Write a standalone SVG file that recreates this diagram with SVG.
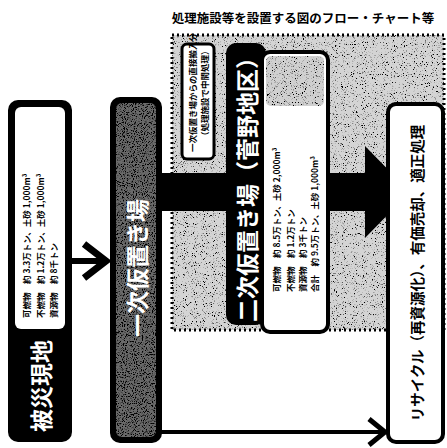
<svg xmlns="http://www.w3.org/2000/svg" width="447" height="448" viewBox="0 0 447 448">
<defs>
<filter id="speckle" x="0" y="0" width="100%" height="100%">
<feTurbulence type="fractalNoise" baseFrequency="0.9" numOctaves="2" seed="7" result="n"/>
<feColorMatrix in="n" type="matrix" values="0 0 0 0 0  0 0 0 0 0  0 0 0 0 0  7 0 0 0 -4.1" result="dots"/>
<feComposite in="dots" in2="SourceAlpha" operator="in" result="cd"/>
<feMerge><feMergeNode in="SourceGraphic"/><feMergeNode in="cd"/></feMerge>
</filter>
<filter id="speckleDark" x="0" y="0" width="100%" height="100%">
<feTurbulence type="fractalNoise" baseFrequency="0.9" numOctaves="2" seed="3" result="n"/>
<feColorMatrix in="n" type="matrix" values="0 0 0 0 0  0 0 0 0 0  0 0 0 0 0  6 0 0 0 -2.9" result="dots"/>
<feComposite in="dots" in2="SourceAlpha" operator="in" result="cd"/>
<feMerge><feMergeNode in="SourceGraphic"/><feMergeNode in="cd"/></feMerge>
</filter>
<style>
text{font-family:"Noto Sans CJK JP","Noto Sans",sans-serif;font-weight:bold}
.big{fill:#fff;font-size:23px;text-anchor:middle;dominant-baseline:central}
.info{fill:#000;font-size:8.5px;dominant-baseline:central}
.ln{fill:none;stroke:#000;stroke-linecap:butt}
</style>
</defs>
<rect width="447" height="448" fill="#fff"/>
<text x="303" y="17" font-size="12.5" text-anchor="middle" dominant-baseline="central">処理施設等を設置する図のフロー・チャート等</text>
<g id="area">
<rect x="172" y="35" width="272" height="295" fill="#d4d4d4" filter="url(#speckle)"/>
<rect x="172" y="35" width="272" height="295" fill="none" stroke="#000" stroke-width="3" stroke-dasharray="2 3"/>
</g>
<g id="connectors">
<polygon points="160,173 365,173 365,146 410,192 365,238 365,211 160,211" fill="#000"/>
<line class="ln" x1="72" y1="261" x2="104" y2="261" stroke-width="6"/>
<polyline class="ln" points="84,244 106,261 84,278" stroke-width="7"/>
<line class="ln" x1="160" y1="432" x2="383" y2="432" stroke-width="4"/>
<polyline class="ln" points="369,419 385,432 369,445" stroke-width="5"/>
</g>
<g id="site">
<rect x="8" y="100" width="64" height="342" rx="10" fill="#000"/>
<rect x="15" y="107" width="50" height="222" rx="6" fill="#fff"/>
<text class="big" transform="translate(40 386) rotate(-90)" font-size="21">被災現地</text>
<text class="info" transform="translate(26 318) rotate(-90)">可燃物　約 3.3万トン、土砂 1,000m³</text>
<text class="info" transform="translate(40 318) rotate(-90)">不燃物　約 1.2万トン、土砂 1,000m³</text>
<text class="info" transform="translate(53 318) rotate(-90)">資源物　約 8千トン</text>
</g>
<g id="primary">
<rect x="110" y="97" width="52" height="346" rx="10" fill="#000"/>
<rect x="116" y="103" width="40" height="334" rx="6" fill="#6a6a6a" filter="url(#speckleDark)"/>
<text class="big" transform="translate(136 268) rotate(-90)" font-size="24">一次仮置き場</text>
</g>
<g id="note">
<rect x="182" y="44" width="32" height="115" rx="5" fill="#fff" stroke="#000" stroke-width="3"/>
<text class="info" font-size="7.5" transform="translate(192 152) rotate(-90)">一次仮置き場からの直接搬入分</text>
<text class="info" font-size="7.5" transform="translate(204 140) rotate(-90)">（処理施設で中間処理）</text>
</g>
<g id="secondary">
<rect x="226" y="43" width="40" height="282" rx="10" fill="#000"/>
<text class="big" transform="translate(246 184) rotate(-90)" font-size="22">二次仮置き場（菅野地区）</text>
</g>
<g id="info">
<rect x="262" y="52" width="66" height="280" rx="8" fill="#fff" stroke="#000" stroke-width="4"/>
<rect x="266" y="56" width="58" height="50" rx="5" fill="#d0d0d0" filter="url(#speckle)"/>
<text class="info" font-size="8" transform="translate(276 292) rotate(-90)">可燃物　約 8.5万トン、土砂 2,000m³</text>
<text class="info" font-size="8" transform="translate(290 292) rotate(-90)">不燃物　約 1.2万トン</text>
<text class="info" font-size="8" transform="translate(302 292) rotate(-90)">資源物　約 3千トン</text>
<text class="info" font-size="8" transform="translate(314 292) rotate(-90)">合計　約 9.5万トン、土砂 1,000m³</text>
</g>
<g id="recycle">
<rect x="388" y="104" width="55" height="338" rx="8" fill="#fff" stroke="#000" stroke-width="4"/>
<text transform="translate(416 273) rotate(-90)" font-size="14.5" text-anchor="middle" dominant-baseline="central">リサイクル（再資源化）、有価売却、適正処理</text>
</g>
</svg>
